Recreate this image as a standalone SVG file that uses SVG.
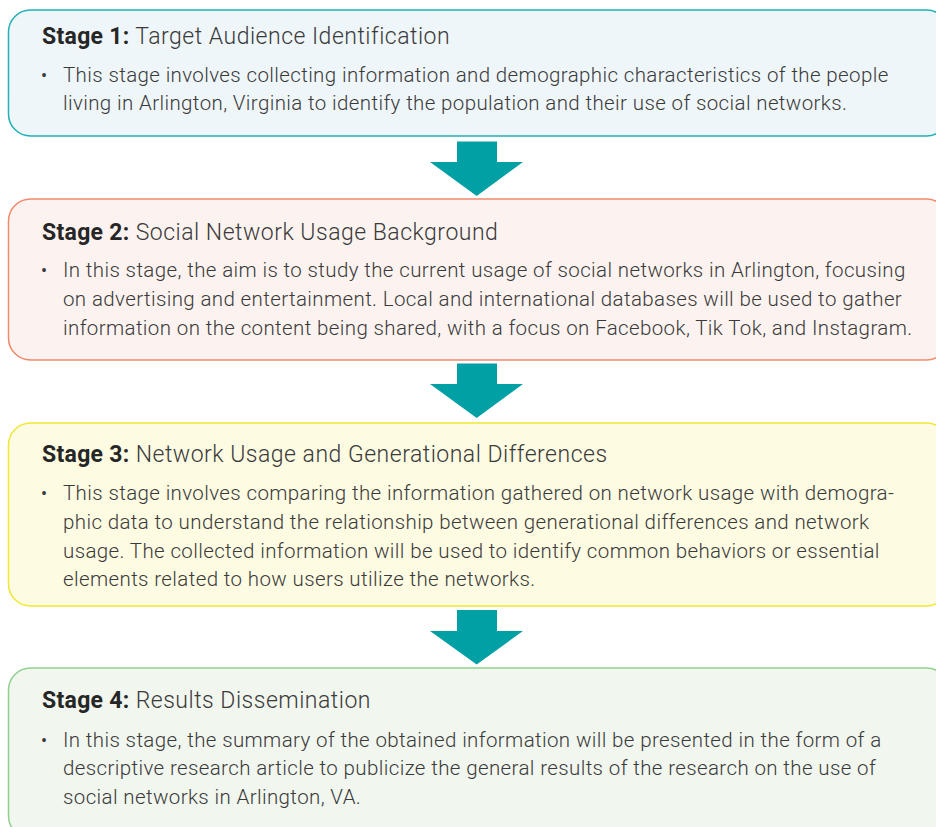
<svg xmlns="http://www.w3.org/2000/svg" width="936" height="827" viewBox="0 0 936 827">
  <style>
    text { font-family: Roboto, "Liberation Sans", sans-serif; fill: #3a3a3a; }
    .title { font-size: 23px; font-weight: 300; letter-spacing: 0.5px; }
    .title .lbl { font-weight: 700; fill: #262626; letter-spacing: 0.3px; }
    .body { font-size: 20.5px; font-weight: 300; letter-spacing: 0.38px; }
    .bullet { font-size: 18px; font-weight: 400; }
    .box { stroke-width: 1.5; }
    .arrow { fill: #00a0a5; }
  </style>
  <rect width="936" height="827" fill="#ffffff"/>

  <g id="stage1">
    <rect class="box" x="8.5" y="10" width="940" height="126" rx="22" fill="#eff6f9" stroke="#21b1b6"/>
    <text class="title" x="42" y="44"><tspan class="lbl">Stage 1:</tspan> Target Audience Identification</text>
    <text class="bullet" x="41" y="81.5">•</text>
    <text class="body" x="63" y="81.5">This stage involves collecting information and demographic characteristics of the people</text>
    <text class="body" x="63" y="110">living in Arlington, Virginia to identify the population and their use of social networks.</text>
  </g>

  <g id="stage2">
    <rect class="box" x="8.5" y="199" width="940" height="161" rx="22" fill="#fcf3f0" stroke="#f1896b"/>
    <text class="title" x="42" y="240"><tspan class="lbl">Stage 2:</tspan> Social Network Usage Background</text>
    <text class="bullet" x="41" y="277">•</text>
    <text class="body" x="63" y="277">In this stage, the aim is to study the current usage of social networks in Arlington, focusing</text>
    <text class="body" x="63" y="306">on advertising and entertainment. Local and international databases will be used to gather</text>
    <text class="body" x="63" y="335">information on the content being shared, with a focus on Facebook, Tik Tok, and Instagram.</text>
  </g>

  <g id="stage3">
    <rect class="box" x="8.5" y="423" width="940" height="183" rx="22" fill="#fdfbe2" stroke="#efe834"/>
    <text class="title" x="42" y="462"><tspan class="lbl">Stage 3:</tspan> Network Usage and Generational Differences</text>
    <text class="bullet" x="41" y="500">•</text>
    <text class="body" x="63" y="500">This stage involves comparing the information gathered on network usage with demogra-</text>
    <text class="body" x="63" y="529">phic data to understand the relationship between generational differences and network</text>
    <text class="body" x="63" y="557.5">usage. The collected information will be used to identify common behaviors or essential</text>
    <text class="body" x="63" y="586">elements related to how users utilize the networks.</text>
  </g>

  <g id="stage4">
    <rect class="box" x="8.5" y="668" width="940" height="170" rx="22" fill="#f1f6ef" stroke="#90d08f"/>
    <text class="title" x="42" y="708"><tspan class="lbl">Stage 4:</tspan> Results Dissemination</text>
    <text class="bullet" x="41" y="746.5">•</text>
    <text class="body" x="63" y="746.5">In this stage, the summary of the obtained information will be presented in the form of a</text>
    <text class="body" x="63" y="775">descriptive research article to publicize the general results of the research on the use of</text>
    <text class="body" x="63" y="803.5">social networks in Arlington, VA.</text>
  </g>

  <g id="connectors">
    <path class="arrow" d="M457 141.5 H497 V162 H523 L476.7 196 L430 162 H457 Z"/>
    <path class="arrow" d="M457 363.5 H497 V384 H523 L476.7 418 L430 384 H457 Z"/>
    <path class="arrow" d="M457 610 H497 V631 H523 L476.7 664.5 L430 631 H457 Z"/>
  </g>
</svg>
